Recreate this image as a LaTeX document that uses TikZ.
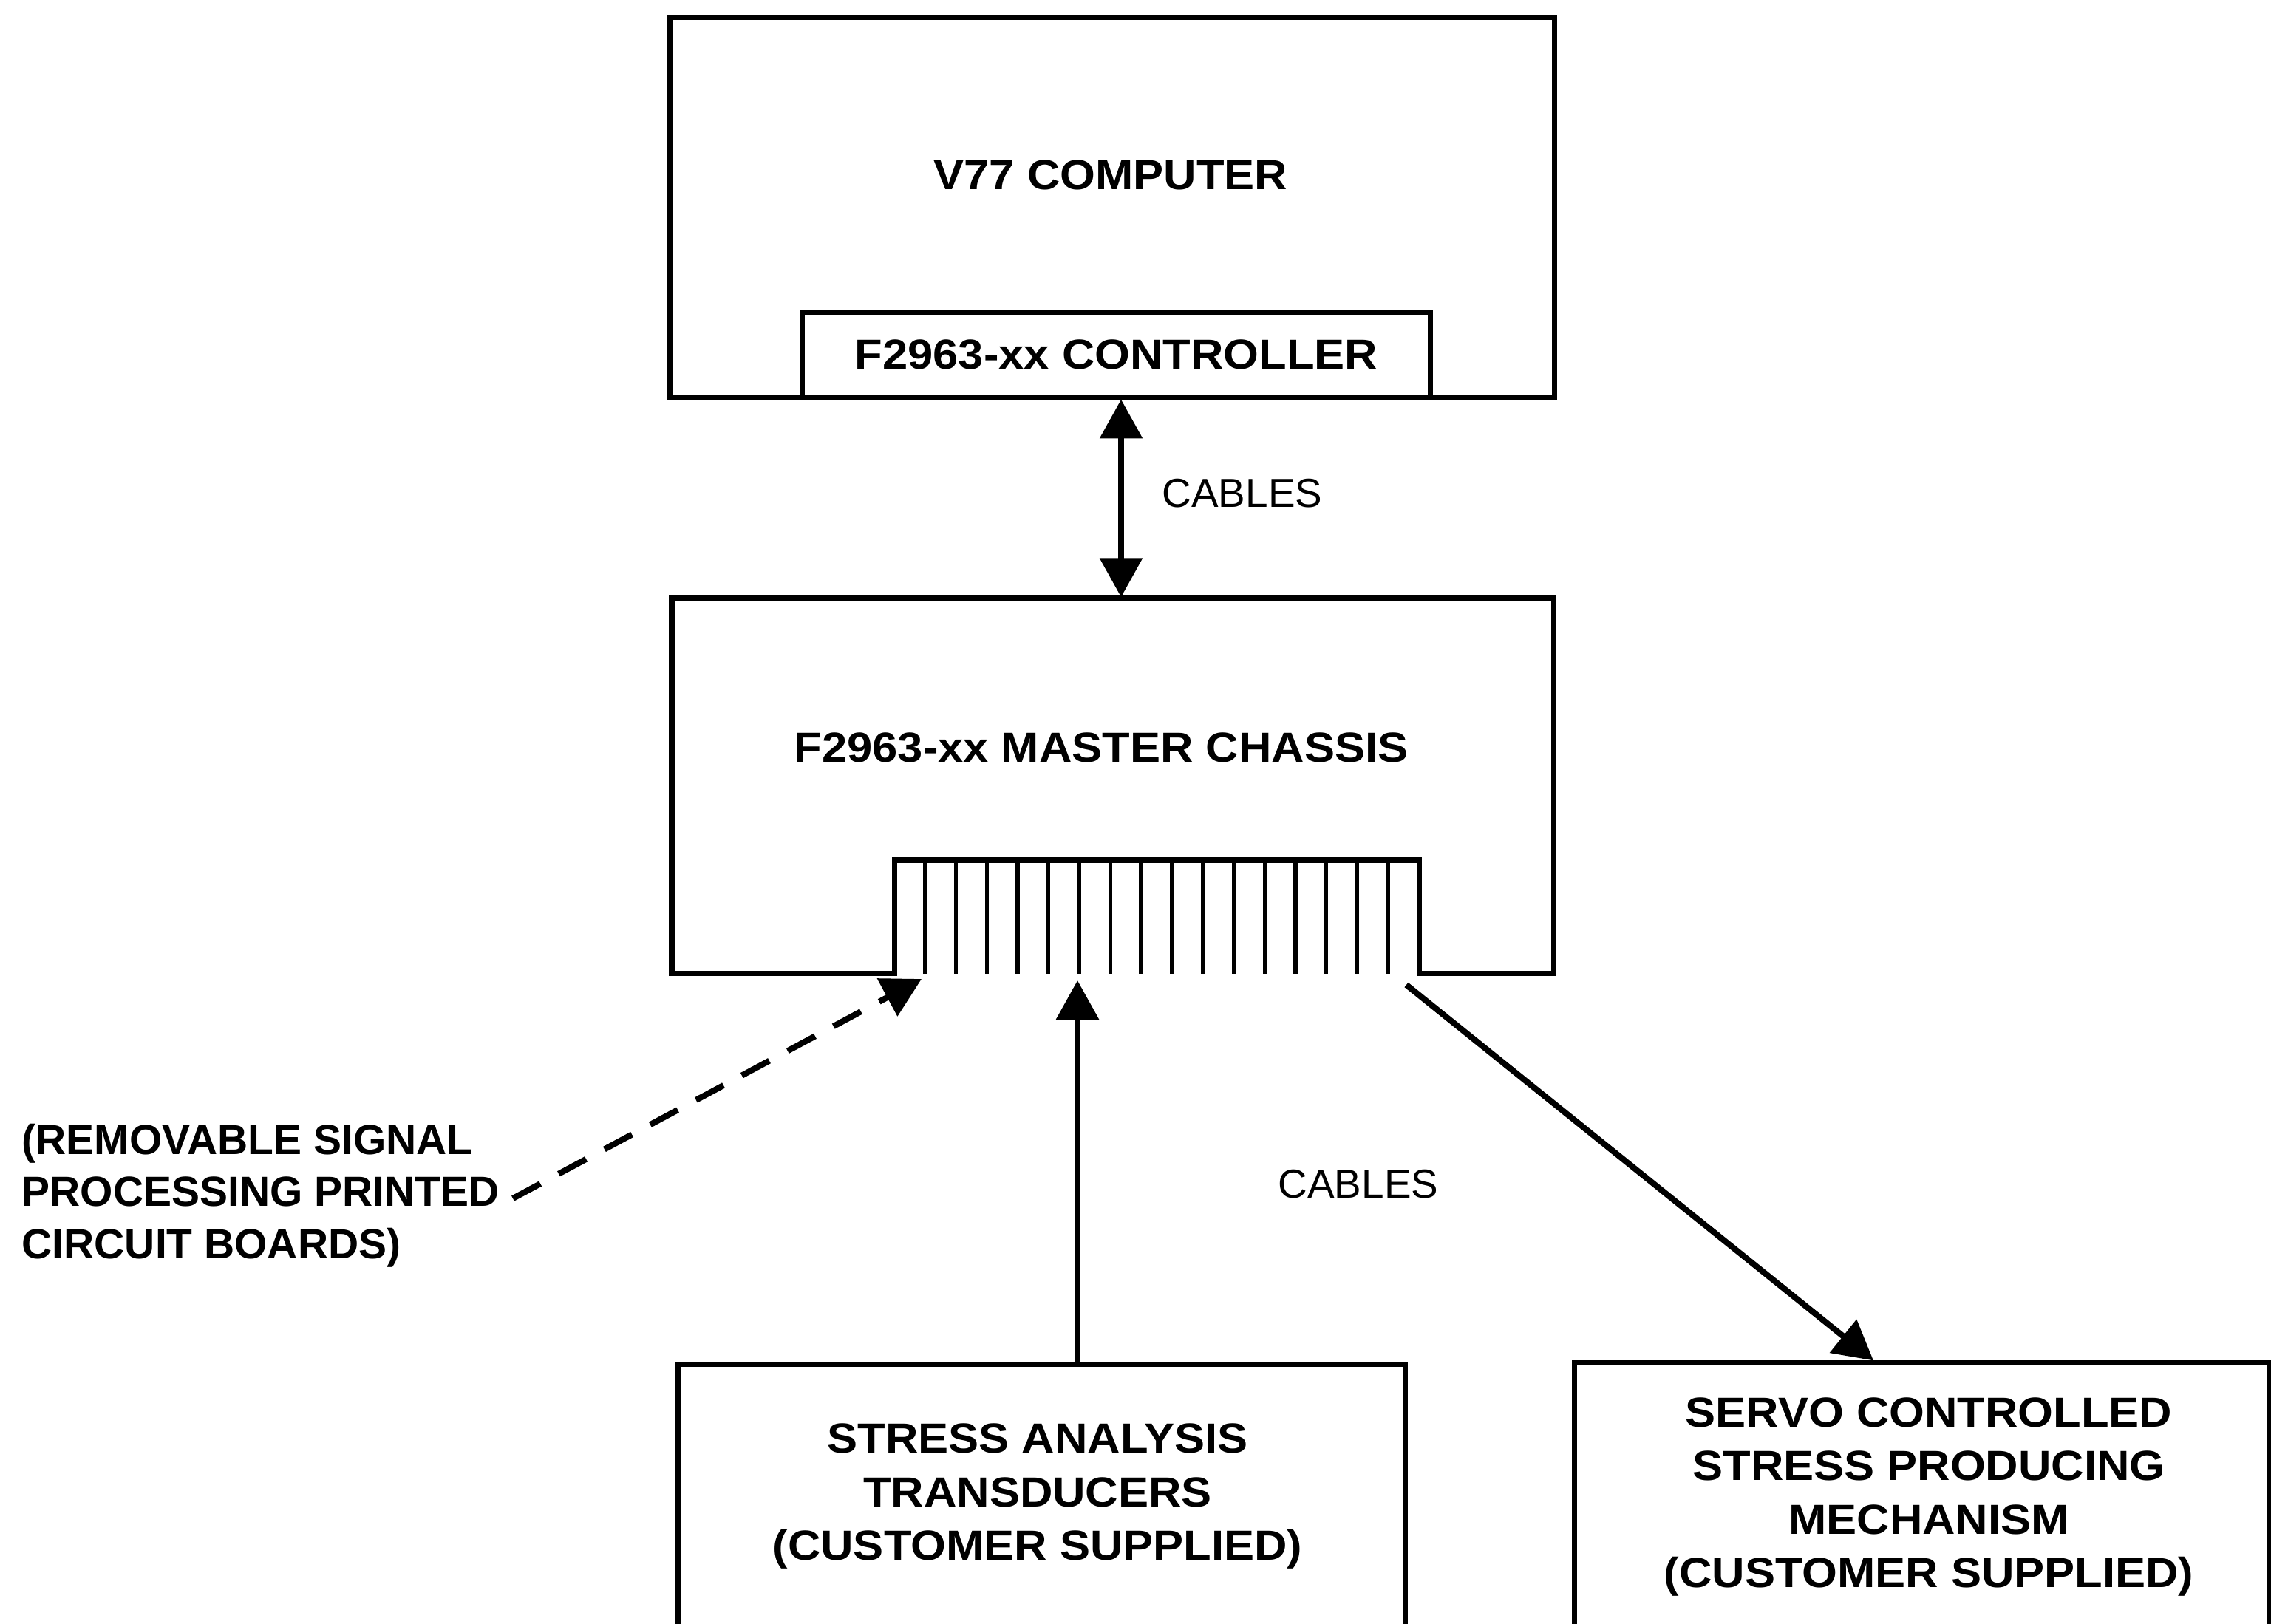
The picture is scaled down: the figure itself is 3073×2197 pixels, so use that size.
\documentclass[tikz,border=0pt]{standalone}
\usepackage{fontspec}
\setmainfont{Liberation Sans}
\newfontfamily\boxfont{Liberation Sans}[FakeStretch=1.08]
\usetikzlibrary{arrows.meta}
\tikzset{
  box/.style={draw, line width=2pt, inner sep=0pt},
  boxlabel/.style={font={\boxfont\bfseries\fontsize{16.2}{20.5}\selectfont}, align=center, inner sep=0pt},
  note/.style={font={\bfseries\fontsize{16.2}{20.1}\selectfont}, align=left, inner sep=0pt},
  plainlabel/.style={font={\fontsize{15.6}{19}\selectfont}, inner sep=0pt},
  conn/.style={line width=2.3pt, -{Triangle[length=15pt,width=16pt]}},
  biconn/.style={line width=2.3pt, {Triangle[length=15pt,width=16pt]}-{Triangle[length=15pt,width=16pt]}},
  slot/.style={line width=1.5pt},
}
\begin{document}
\begin{tikzpicture}[x=0.01cm,y=-0.01cm]
\useasboundingbox (0,0) rectangle (3073,2197);
\clip (0,0) rectangle (3073,2197);

% V77 computer with controller
\node[box, minimum width=11.96cm, minimum height=5.13cm] (v77) at (1505,280.5) {};
\node[boxlabel] (v77t) at (1503,237) {V77 COMPUTER};
\node[box, boxlabel, minimum width=8.49cm, minimum height=1.14cm] (ctrl) at (1510.5,480) {F2963-xx CONTROLLER};

% master chassis
\node[minimum width=11.93cm, minimum height=5.08cm, inner sep=0pt] (chassis) at (1505.5,1063) {};
\draw[line width=2pt, line join=miter]
  (909,809) -- (2102,809) -- (2102,1317) -- (1920,1317) -- (1920,1164)
  -- (1210,1164) -- (1210,1317) -- (909,1317) -- cycle;
\foreach \k in {1,...,16} \draw[slot] ({1210+\k*41.76},1164) -- ++(0,154);
\node[boxlabel] (chassist) at (1490,1012) {F2963-xx MASTER CHASSIS};

% cables between computer and chassis
\coordinate (ca) at (1517,0);
\draw[biconn] (ca |- v77.south) -- (ca |- chassis.north);
\node[plainlabel] (cables1) at (1681,668) {CABLES};

% customer boxes
\node[box, minimum width=9.83cm, minimum height=4.53cm] (stress) at (1409.5,2073.5) {};
\node[boxlabel] (stresst) at (1404,2025) {STRESS ANALYSIS\\TRANSDUCERS\\(CUSTOMER SUPPLIED)};
\node[box, minimum width=9.39cm, minimum height=4.55cm] (servo) at (2600.5,2072.5) {};
\node[boxlabel] (servot) at (2610,2026) {SERVO CONTROLLED\\STRESS PRODUCING\\MECHANISM\\(CUSTOMER SUPPLIED)};

% note on boards
\node[note, anchor=west] (note) at (29,1618) {(REMOVABLE SIGNAL\\PROCESSING PRINTED\\CIRCUIT BOARDS)};
\coordinate (dstart) at (694,1622);
\coordinate (dend) at (1247,1325);
\draw[conn, dash pattern=on 12pt off 8pt] (dstart) -- (dend);

% cables to customer equipment
\coordinate (va) at (1458,1327);
\draw[conn] (va |- stress.north) -- (va);
\coordinate (dg) at (1903,1333);
\coordinate (dgx) at (2535,0);
\draw[conn] (dg) -- (dgx |- servo.north);
\node[plainlabel] (cables2) at (1838,1603) {CABLES};
\end{tikzpicture}
\end{document}
